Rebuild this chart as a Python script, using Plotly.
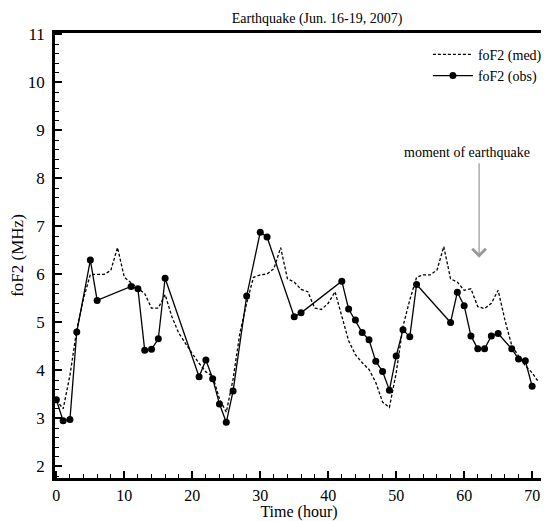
import plotly.graph_objects as go

# median foF2, hourly
med_hours = list(range(0, 72))
med_vals = [3.38, 3.2, 3.9, 4.85, 5.5, 6.0, 6.0, 6.0, 6.08, 6.56,
            5.94, 5.82, 5.72, 5.6, 5.3, 5.3, 5.58, 5.12, 4.78, 4.55,
            4.35, 4.15, 3.97, 3.88, 3.41, 3.13, 3.82, 4.78, 5.4, 5.94,
            5.99, 6.01, 6.12, 6.56, 5.91, 5.84, 5.69, 5.64, 5.3, 5.27,
            5.4, 5.64, 5.15, 4.62, 4.33, 4.16, 4.02, 3.75, 3.34, 3.23,
            3.95, 4.92, 5.47, 5.94, 5.99, 5.99, 6.09, 6.58, 5.91, 5.84,
            5.67, 5.70, 5.33, 5.29, 5.4, 5.67, 5.05, 4.52, 4.3, 4.1,
            3.95, 3.75]

# observed foF2
obs_hours = [0, 1, 2, 3, 5, 6, 11, 12, 13, 14, 15, 16, 21, 22, 23, 24, 25, 26,
             28, 30, 31, 35, 36, 42, 43, 44, 45, 46, 47, 48, 49, 50, 51, 52, 53,
             58, 59, 60, 61, 62, 63, 64, 65, 67, 68, 69, 70]
obs_vals = [3.39, 2.95, 2.98, 4.80, 6.30, 5.46, 5.75, 5.70, 4.42, 4.44, 4.66, 5.92,
            3.87, 4.22, 3.83, 3.30, 2.92, 3.57, 5.55, 6.88, 6.78, 5.12, 5.20, 5.86,
            5.28, 5.05, 4.79, 4.64, 4.19, 3.98, 3.59, 4.30, 4.85, 4.70, 5.79,
            5.00, 5.63, 5.35, 4.72, 4.45, 4.45, 4.72, 4.77, 4.45, 4.24, 4.20, 3.67]

x_ticks = [0, 10, 20, 30, 40, 50, 60, 70]
y_ticks = [2, 3, 4, 5, 6, 7, 8, 9, 10, 11]

quake_hour = 62.2
arrow_tip = 6.35
arrow_tail = 8.35
label_hour = 60.4
label_level = 8.55

FONT = "Liberation Serif"

fig = go.Figure()
fig.add_trace(go.Scatter(
    x=med_hours, y=med_vals, mode="lines", name="foF2 (med)",
    line=dict(color="black", width=1.3, dash="3px,2px")))
fig.add_trace(go.Scatter(
    x=obs_hours, y=obs_vals, mode="lines+markers", name="foF2 (obs)",
    line=dict(color="black", width=1.3),
    marker=dict(color="black", size=7, symbol="circle")))

fig.add_annotation(
    x=quake_hour, y=arrow_tip, ax=quake_hour, ay=arrow_tail,
    xref="x", yref="y", axref="x", ayref="y",
    showarrow=True, arrowhead=4, arrowsize=2.2, arrowwidth=1.2,
    arrowcolor="#999999", text="")
fig.add_annotation(
    x=label_hour, y=label_level, xref="x", yref="y", text="moment of earthquake",
    showarrow=False, font=dict(family=FONT, size=14, color="black"))

axis_common = dict(
    showline=True, linecolor="black", linewidth=2.5, mirror=True,
    showgrid=False, zeroline=False,
    ticks="inside", tickcolor="black", tickwidth=2, ticklen=7,
)

fig.update_xaxes(
    range=[-0.2, 71.6], tickvals=x_ticks, ticktext=[str(v) for v in x_ticks],
    ticklabelstandoff=1,
    tickfont=dict(family=FONT, size=16, color="black"),
    minor=dict(dtick=2, ticks="inside", ticklen=4, tickwidth=1, tickcolor="black"),
    title=dict(text="Time (hour)", font=dict(family=FONT, size=16, color="black"), standoff=4),
    **axis_common)
fig.update_yaxes(
    range=[1.76, 11.03], tickvals=y_ticks, ticktext=[str(v) for v in y_ticks],
    ticklabelstandoff=4,
    tickfont=dict(family=FONT, size=17, color="black"),
    minor=dict(dtick=0.2, ticks="inside", ticklen=4, tickwidth=1, tickcolor="black"),
    title=dict(text="foF2 (MHz)", font=dict(family=FONT, size=17, color="black"), standoff=2),
    **axis_common)

# page body adds an 8px margin, so the figure is sized/offset to compensate
fig.update_layout(
    width=541, height=513,
    margin=dict(l=47, r=2, t=25, b=38),
    paper_bgcolor="white", plot_bgcolor="white",
    title=dict(text="Earthquake (Jun. 16-19, 2007)", x=0.537, xref="paper", xanchor="center",
               y=0.9805, yanchor="middle",
               font=dict(family=FONT, size=14, color="black")),
    legend=dict(x=1.008, y=0.987, xanchor="right", yanchor="top",
                bgcolor="rgba(0,0,0,0)", borderwidth=0,
                font=dict(family=FONT, size=14, color="black"),
                tracegroupgap=0, itemwidth=40),
    showlegend=True,
)

fig.write_html("out.html")
